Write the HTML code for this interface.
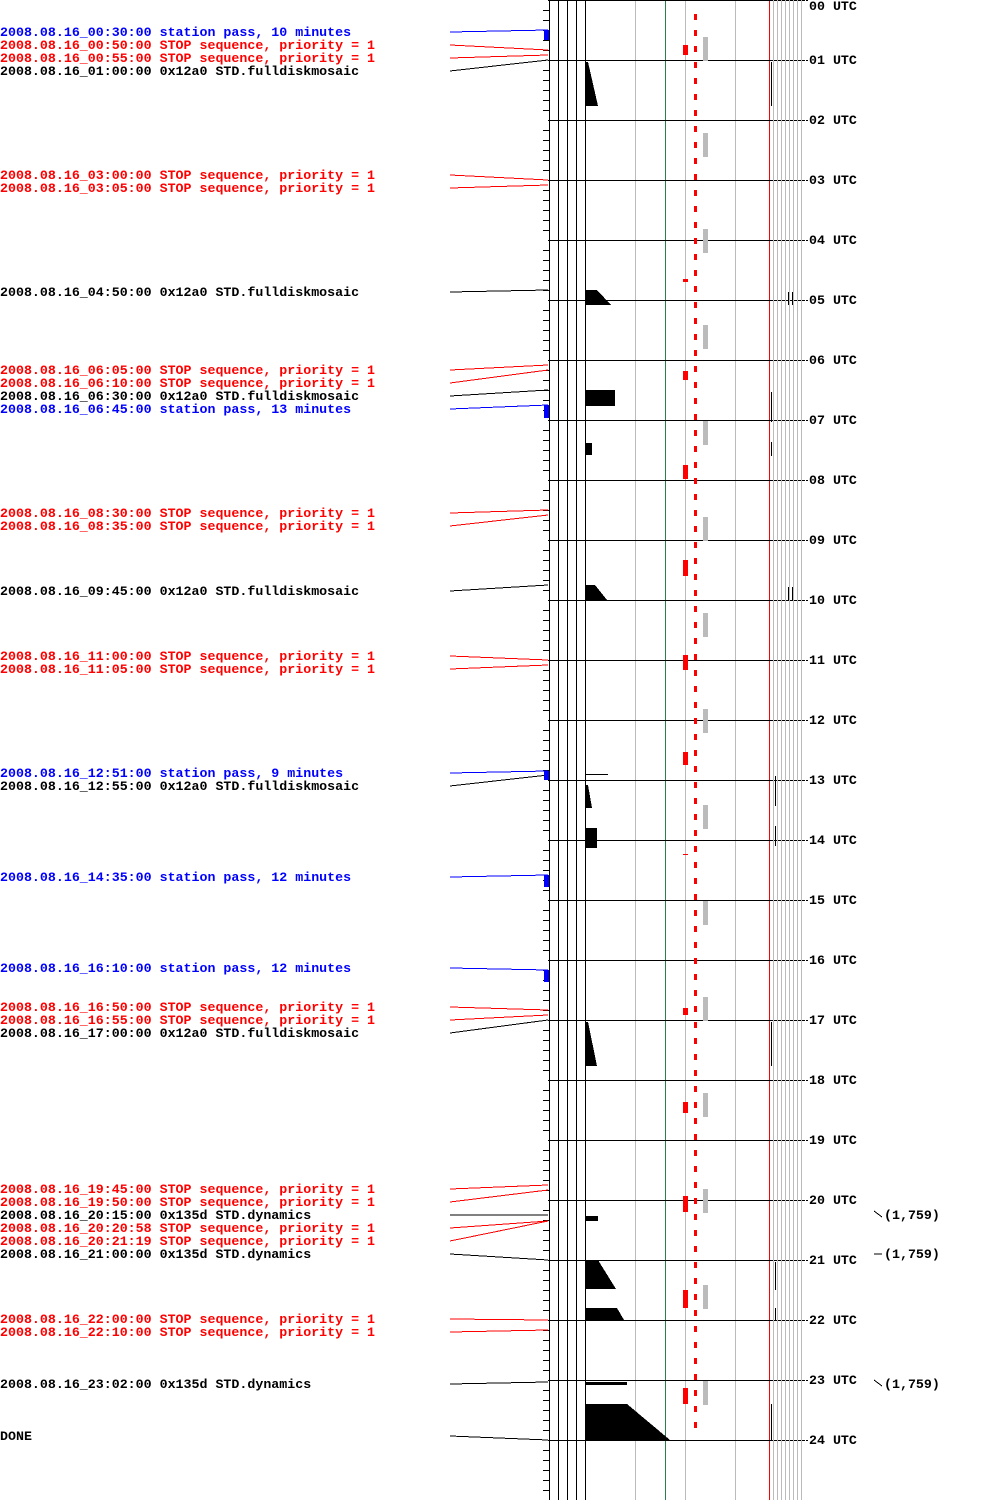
<!DOCTYPE html>
<html><head><meta charset="utf-8"><style>
html,body{margin:0;padding:0;background:#fff;}
svg{display:block;}
text{font-family:"Liberation Mono",monospace;font-size:13.3px;font-weight:bold;}
.b{fill:#0000ff}.r{fill:#ff0000}.k{fill:#000}
</style></head><body>
<svg width="1000" height="1500" viewBox="0 0 1000 1500" xmlns="http://www.w3.org/2000/svg" shape-rendering="crispEdges">
<g stroke-width="1">
<line x1="549.5" y1="0" x2="549.5" y2="1500" stroke="#000"/>
<line x1="558.5" y1="0" x2="558.5" y2="1500" stroke="#000"/>
<line x1="567.5" y1="0" x2="567.5" y2="1500" stroke="#000"/>
<line x1="576.5" y1="0" x2="576.5" y2="1500" stroke="#000"/>
<line x1="585.5" y1="0" x2="585.5" y2="1500" stroke="#000"/>
<line x1="635.5" y1="0" x2="635.5" y2="1500" stroke="#bbb"/>
<line x1="665.5" y1="0" x2="665.5" y2="1500" stroke="#2e7d4f"/>
<line x1="685.5" y1="0" x2="685.5" y2="1500" stroke="#bbb"/>
<line x1="735.5" y1="0" x2="735.5" y2="1500" stroke="#bbb"/>
<line x1="769.5" y1="0" x2="769.5" y2="1500" stroke="#f00"/>
<line x1="773.5" y1="0" x2="773.5" y2="1500" stroke="#bbb"/>
<line x1="777.5" y1="0" x2="777.5" y2="1500" stroke="#bbb"/>
<line x1="781.5" y1="0" x2="781.5" y2="1500" stroke="#bbb"/>
<line x1="785.5" y1="0" x2="785.5" y2="1500" stroke="#bbb"/>
<line x1="789.5" y1="0" x2="789.5" y2="1500" stroke="#bbb"/>
<line x1="793.5" y1="0" x2="793.5" y2="1500" stroke="#bbb"/>
<line x1="797.5" y1="0" x2="797.5" y2="1500" stroke="#bbb"/>
<line x1="801.5" y1="0" x2="801.5" y2="1500" stroke="#bbb"/>
</g>
<path stroke="#000" d="M543 10.5h6M543 20.5h6M543 30.5h6M543 40.5h6M543 50.5h6M543 70.5h6M543 80.5h6M543 90.5h6M543 100.5h6M543 110.5h6M543 130.5h6M543 140.5h6M543 150.5h6M543 160.5h6M543 170.5h6M543 190.5h6M543 200.5h6M543 210.5h6M543 220.5h6M543 230.5h6M543 250.5h6M543 260.5h6M543 270.5h6M543 280.5h6M543 290.5h6M543 310.5h6M543 320.5h6M543 330.5h6M543 340.5h6M543 350.5h6M543 370.5h6M543 380.5h6M543 390.5h6M543 400.5h6M543 410.5h6M543 430.5h6M543 440.5h6M543 450.5h6M543 460.5h6M543 470.5h6M543 490.5h6M543 500.5h6M543 510.5h6M543 520.5h6M543 530.5h6M543 550.5h6M543 560.5h6M543 570.5h6M543 580.5h6M543 590.5h6M543 610.5h6M543 620.5h6M543 630.5h6M543 640.5h6M543 650.5h6M543 670.5h6M543 680.5h6M543 690.5h6M543 700.5h6M543 710.5h6M543 730.5h6M543 740.5h6M543 750.5h6M543 760.5h6M543 770.5h6M543 790.5h6M543 800.5h6M543 810.5h6M543 820.5h6M543 830.5h6M543 850.5h6M543 860.5h6M543 870.5h6M543 880.5h6M543 890.5h6M543 910.5h6M543 920.5h6M543 930.5h6M543 940.5h6M543 950.5h6M543 970.5h6M543 980.5h6M543 990.5h6M543 1000.5h6M543 1010.5h6M543 1030.5h6M543 1040.5h6M543 1050.5h6M543 1060.5h6M543 1070.5h6M543 1090.5h6M543 1100.5h6M543 1110.5h6M543 1120.5h6M543 1130.5h6M543 1150.5h6M543 1160.5h6M543 1170.5h6M543 1180.5h6M543 1190.5h6M543 1210.5h6M543 1220.5h6M543 1230.5h6M543 1240.5h6M543 1250.5h6M543 1270.5h6M543 1280.5h6M543 1290.5h6M543 1300.5h6M543 1310.5h6M543 1330.5h6M543 1340.5h6M543 1350.5h6M543 1360.5h6M543 1370.5h6M543 1390.5h6M543 1400.5h6M543 1410.5h6M543 1420.5h6M543 1430.5h6M543 1450.5h6M543 1460.5h6M543 1470.5h6M543 1480.5h6M543 1490.5h6"/>
<g stroke="#000">
<path d="M548 0.5h222M548 60.5h222M548 120.5h222M548 180.5h222M548 240.5h222M548 300.5h222M548 360.5h222M548 420.5h222M548 480.5h222M548 540.5h222M548 600.5h222M548 660.5h222M548 720.5h222M548 780.5h222M548 840.5h222M548 900.5h222M548 960.5h222M548 1020.5h222M548 1080.5h222M548 1140.5h222M548 1200.5h222M548 1260.5h222M548 1320.5h222M548 1380.5h222M548 1440.5h222"/>
<path stroke-dasharray="3,1" d="M770 0.5h38M770 60.5h38M770 120.5h38M770 180.5h38M770 240.5h38M770 300.5h38M770 360.5h38M770 420.5h38M770 480.5h38M770 540.5h38M770 600.5h38M770 660.5h38M770 720.5h38M770 780.5h38M770 840.5h38M770 900.5h38M770 960.5h38M770 1020.5h38M770 1080.5h38M770 1140.5h38M770 1200.5h38M770 1260.5h38M770 1320.5h38M770 1380.5h38M770 1440.5h38"/>
</g>
<line x1="695.5" y1="14" x2="695.5" y2="1432" stroke="#f00" stroke-width="3" stroke-dasharray="6,10"/>
<g fill="#bbb">
<rect x="703" y="37" width="5" height="24"/><rect x="703" y="133" width="5" height="24"/><rect x="703" y="229" width="5" height="24"/><rect x="703" y="325" width="5" height="24"/><rect x="703" y="421" width="5" height="24"/><rect x="703" y="517" width="5" height="24"/><rect x="703" y="613" width="5" height="24"/><rect x="703" y="709" width="5" height="24"/><rect x="703" y="805" width="5" height="24"/><rect x="703" y="901" width="5" height="24"/><rect x="703" y="997" width="5" height="24"/><rect x="703" y="1093" width="5" height="24"/><rect x="703" y="1189" width="5" height="24"/><rect x="703" y="1285" width="5" height="24"/><rect x="703" y="1381" width="5" height="24"/>
</g>
<g fill="#f00">
<rect x="683" y="45" width="5" height="10"/><rect x="683" y="279" width="5" height="3"/><rect x="683" y="371" width="5" height="9"/><rect x="683" y="465" width="5" height="14"/><rect x="683" y="560" width="5" height="16"/><rect x="683" y="655" width="5" height="15"/><rect x="683" y="752" width="5" height="13"/><rect x="683" y="854" width="5" height="1"/><rect x="683" y="1008" width="5" height="7"/><rect x="683" y="1102" width="5" height="11"/><rect x="683" y="1196" width="5" height="16"/><rect x="683" y="1290" width="5" height="18"/><rect x="683" y="1388" width="5" height="16"/>
</g>
<g fill="#000">
<polygon points="585,62 588,62 598,106 585,106"/>
<polygon points="585,290 597,290 611,305 585,305"/>
<rect x="585" y="390" width="30" height="16"/>
<rect x="585" y="443" width="7" height="12"/>
<polygon points="585,585 595,585 607,600 585,600"/>
<rect x="585" y="774" width="23" height="1"/>
<polygon points="585,785 588,785 592,808 585,808"/>
<rect x="585" y="828" width="12" height="20"/>
<polygon points="585,1022 588,1022 597,1066 585,1066"/>
<rect x="585" y="1216" width="13" height="5"/>
<polygon points="585,1260 598,1260 616,1289 585,1289"/>
<polygon points="585,1308 617,1308 624,1320 585,1320"/>
<rect x="585" y="1382" width="42" height="3"/>
<polygon points="585,1404 627,1404 670,1440 585,1440"/>
<rect x="771" y="62" width="1" height="44"/><rect x="771" y="392" width="1" height="30"/><rect x="771" y="442" width="1" height="14"/><rect x="775" y="776" width="1" height="30"/><rect x="775" y="826" width="1" height="20"/><rect x="771" y="1022" width="1" height="44"/><rect x="775" y="1262" width="1" height="28"/><rect x="775" y="1308" width="1" height="12"/><rect x="771" y="1404" width="1" height="36"/>
<rect x="788" y="292" width="1" height="13"/><rect x="792" y="292" width="1" height="13"/><rect x="788" y="587" width="1" height="13"/><rect x="792" y="587" width="1" height="13"/>
</g>
<g fill="none" stroke-width="1">
<polyline stroke="#00f" points="450,32 548,30"/>
<polyline stroke="#f00" points="450,45 548,50"/>
<polyline stroke="#f00" points="450,58 548,55"/>
<polyline stroke="#000" points="450,71 548,60"/>
<polyline stroke="#f00" points="450,175 548,180"/>
<polyline stroke="#f00" points="450,188 548,185"/>
<polyline stroke="#000" points="450,292 548,290"/>
<polyline stroke="#f00" points="450,370 548,365"/>
<polyline stroke="#f00" points="450,383 548,370"/>
<polyline stroke="#000" points="450,396 548,390"/>
<polyline stroke="#00f" points="450,409 548,405"/>
<polyline stroke="#f00" points="450,513 548,510"/>
<polyline stroke="#f00" points="450,526 548,515"/>
<polyline stroke="#000" points="450,591 548,585"/>
<polyline stroke="#f00" points="450,656 548,660"/>
<polyline stroke="#f00" points="450,669 548,665"/>
<polyline stroke="#00f" points="450,773 548,771"/>
<polyline stroke="#000" points="450,786 548,775"/>
<polyline stroke="#00f" points="450,877 548,875"/>
<polyline stroke="#00f" points="450,968 548,970"/>
<polyline stroke="#f00" points="450,1007 548,1010"/>
<polyline stroke="#f00" points="450,1020 548,1015"/>
<polyline stroke="#000" points="450,1033 548,1020"/>
<polyline stroke="#f00" points="450,1189 548,1185"/>
<polyline stroke="#f00" points="450,1202 548,1190"/>
<polyline stroke="#000" points="450,1215 548,1215"/>
<polyline stroke="#f00" points="450,1228 548,1221"/>
<polyline stroke="#f00" points="450,1241 548,1221"/>
<polyline stroke="#000" points="450,1254 548,1260"/>
<polyline stroke="#f00" points="450,1319 548,1320"/>
<polyline stroke="#f00" points="450,1332 548,1330"/>
<polyline stroke="#000" points="450,1384 548,1382"/>
<polyline stroke="#000" points="450,1436 548,1440"/>
</g>
<g fill="#00f">
<rect x="544" y="30" width="5" height="10"/><rect x="544" y="405" width="5" height="13"/><rect x="544" y="771" width="5" height="9"/><rect x="544" y="875" width="5" height="12"/><rect x="544" y="970" width="5" height="12"/>
</g>
<g transform="translate(0,-1)">
<text x="0" y="37" class="b">2008.08.16_00:30:00 station pass, 10 minutes</text>
<text x="0" y="50" class="r">2008.08.16_00:50:00 STOP sequence, priority = 1</text>
<text x="0" y="63" class="r">2008.08.16_00:55:00 STOP sequence, priority = 1</text>
<text x="0" y="76" class="k">2008.08.16_01:00:00 0x12a0 STD.fulldiskmosaic</text>
<text x="0" y="180" class="r">2008.08.16_03:00:00 STOP sequence, priority = 1</text>
<text x="0" y="193" class="r">2008.08.16_03:05:00 STOP sequence, priority = 1</text>
<text x="0" y="297" class="k">2008.08.16_04:50:00 0x12a0 STD.fulldiskmosaic</text>
<text x="0" y="375" class="r">2008.08.16_06:05:00 STOP sequence, priority = 1</text>
<text x="0" y="388" class="r">2008.08.16_06:10:00 STOP sequence, priority = 1</text>
<text x="0" y="401" class="k">2008.08.16_06:30:00 0x12a0 STD.fulldiskmosaic</text>
<text x="0" y="414" class="b">2008.08.16_06:45:00 station pass, 13 minutes</text>
<text x="0" y="518" class="r">2008.08.16_08:30:00 STOP sequence, priority = 1</text>
<text x="0" y="531" class="r">2008.08.16_08:35:00 STOP sequence, priority = 1</text>
<text x="0" y="596" class="k">2008.08.16_09:45:00 0x12a0 STD.fulldiskmosaic</text>
<text x="0" y="661" class="r">2008.08.16_11:00:00 STOP sequence, priority = 1</text>
<text x="0" y="674" class="r">2008.08.16_11:05:00 STOP sequence, priority = 1</text>
<text x="0" y="778" class="b">2008.08.16_12:51:00 station pass, 9 minutes</text>
<text x="0" y="791" class="k">2008.08.16_12:55:00 0x12a0 STD.fulldiskmosaic</text>
<text x="0" y="882" class="b">2008.08.16_14:35:00 station pass, 12 minutes</text>
<text x="0" y="973" class="b">2008.08.16_16:10:00 station pass, 12 minutes</text>
<text x="0" y="1012" class="r">2008.08.16_16:50:00 STOP sequence, priority = 1</text>
<text x="0" y="1025" class="r">2008.08.16_16:55:00 STOP sequence, priority = 1</text>
<text x="0" y="1038" class="k">2008.08.16_17:00:00 0x12a0 STD.fulldiskmosaic</text>
<text x="0" y="1194" class="r">2008.08.16_19:45:00 STOP sequence, priority = 1</text>
<text x="0" y="1207" class="r">2008.08.16_19:50:00 STOP sequence, priority = 1</text>
<text x="0" y="1220" class="k">2008.08.16_20:15:00 0x135d STD.dynamics</text>
<text x="0" y="1233" class="r">2008.08.16_20:20:58 STOP sequence, priority = 1</text>
<text x="0" y="1246" class="r">2008.08.16_20:21:19 STOP sequence, priority = 1</text>
<text x="0" y="1259" class="k">2008.08.16_21:00:00 0x135d STD.dynamics</text>
<text x="0" y="1324" class="r">2008.08.16_22:00:00 STOP sequence, priority = 1</text>
<text x="0" y="1337" class="r">2008.08.16_22:10:00 STOP sequence, priority = 1</text>
<text x="0" y="1389" class="k">2008.08.16_23:02:00 0x135d STD.dynamics</text>
<text x="0" y="1441" class="k">DONE</text>
</g>
<g class="k" transform="translate(0,-1)">
<text x="809" y="11">00 UTC</text><text x="809" y="65">01 UTC</text><text x="809" y="125">02 UTC</text><text x="809" y="185">03 UTC</text><text x="809" y="245">04 UTC</text><text x="809" y="305">05 UTC</text><text x="809" y="365">06 UTC</text><text x="809" y="425">07 UTC</text><text x="809" y="485">08 UTC</text><text x="809" y="545">09 UTC</text><text x="809" y="605">10 UTC</text><text x="809" y="665">11 UTC</text><text x="809" y="725">12 UTC</text><text x="809" y="785">13 UTC</text><text x="809" y="845">14 UTC</text><text x="809" y="905">15 UTC</text><text x="809" y="965">16 UTC</text><text x="809" y="1025">17 UTC</text><text x="809" y="1085">18 UTC</text><text x="809" y="1145">19 UTC</text><text x="809" y="1205">20 UTC</text><text x="809" y="1265">21 UTC</text><text x="809" y="1325">22 UTC</text><text x="809" y="1385">23 UTC</text><text x="809" y="1445">24 UTC</text>
</g>
<g class="k">
<path d="M874 1211l8 6M874 1254h8M874 1380l8 6" stroke="#000" fill="none"/>
<text x="884" y="1219">(1,759)</text>
<text x="884" y="1258">(1,759)</text>
<text x="884" y="1388">(1,759)</text>
</g>
</svg>
</body></html>
